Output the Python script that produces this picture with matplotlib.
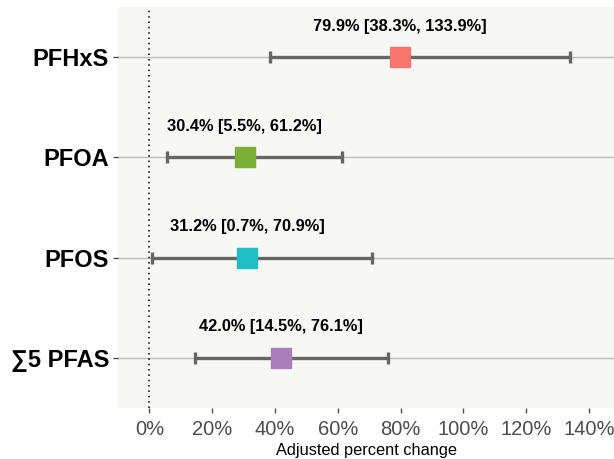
import matplotlib.pyplot as plt
import numpy as np

plt.rcParams['font.family'] = ['Liberation Sans', 'DejaVu Sans']

# adjusted percent change with 95% CI
exposures = ["PFHxS", "PFOA", "PFOS", "\u22115 PFAS"]
estimate = [79.9, 30.4, 31.2, 42.0]
ci_low = [38.3, 5.5, 0.7, 14.5]
ci_high = [133.9, 61.2, 70.9, 76.1]
colors = ["#F8766D", "#7CAE3A", "#1DBEC4", "#A97DB9"]
xticks = [0, 20, 40, 60, 80, 100, 120, 140]


def main():
    fig = plt.figure(figsize=(6.14, 4.59), dpi=100)
    ax = fig.add_axes([118 / 614, 51 / 459, 1 - 118 / 614, 401 / 459])
    ax.set_facecolor("#F7F7F5")
    for s in ax.spines.values():
        s.set_visible(False)

    n = len(exposures)
    ypos = np.arange(n)[::-1] + 1

    for y in ypos:
        ax.axhline(y, color="#BDBDBD", lw=1.0, zorder=1)
    ax.axvline(0, color="black", lw=1.1, ls=(0, (1, 2.5)), zorder=2)

    for i in range(n):
        y = ypos[i]
        ax.errorbar(estimate[i], y,
                    xerr=[[estimate[i] - ci_low[i]], [ci_high[i] - estimate[i]]],
                    fmt="none", ecolor="#666666", elinewidth=2.4,
                    capsize=4, capthick=2.4, zorder=3)
        ax.plot(estimate[i], y, marker="s", ms=15, color=colors[i],
                mec=colors[i], ls="none", zorder=4)
        ax.text(estimate[i], y + 0.31,
                f"{estimate[i]:.1f}% [{ci_low[i]:.1f}%, {ci_high[i]:.1f}%]",
                ha="center", va="center", fontsize=11.8, fontweight="bold")

    ax.set_xlim(-10, 148)
    ax.set_ylim(0.5, 4.5)
    ax.set_yticks(ypos)
    ax.set_yticklabels(exposures, fontsize=17, fontweight="bold")
    ax.set_xticks(xticks)
    ax.set_xticklabels([f"{t}%" for t in xticks], fontsize=14.5, color="#4D4D4D")
    ax.tick_params(axis="both", colors="#4D4D4D", length=3.5, width=1)
    ax.tick_params(axis="y", labelcolor="black", pad=3)
    ax.tick_params(axis="x", pad=5)
    ax.set_xlabel("Adjusted percent change", fontsize=11.8, labelpad=3)

    fig.savefig("out.png", dpi=100)


if __name__ == '__main__':
    main()
